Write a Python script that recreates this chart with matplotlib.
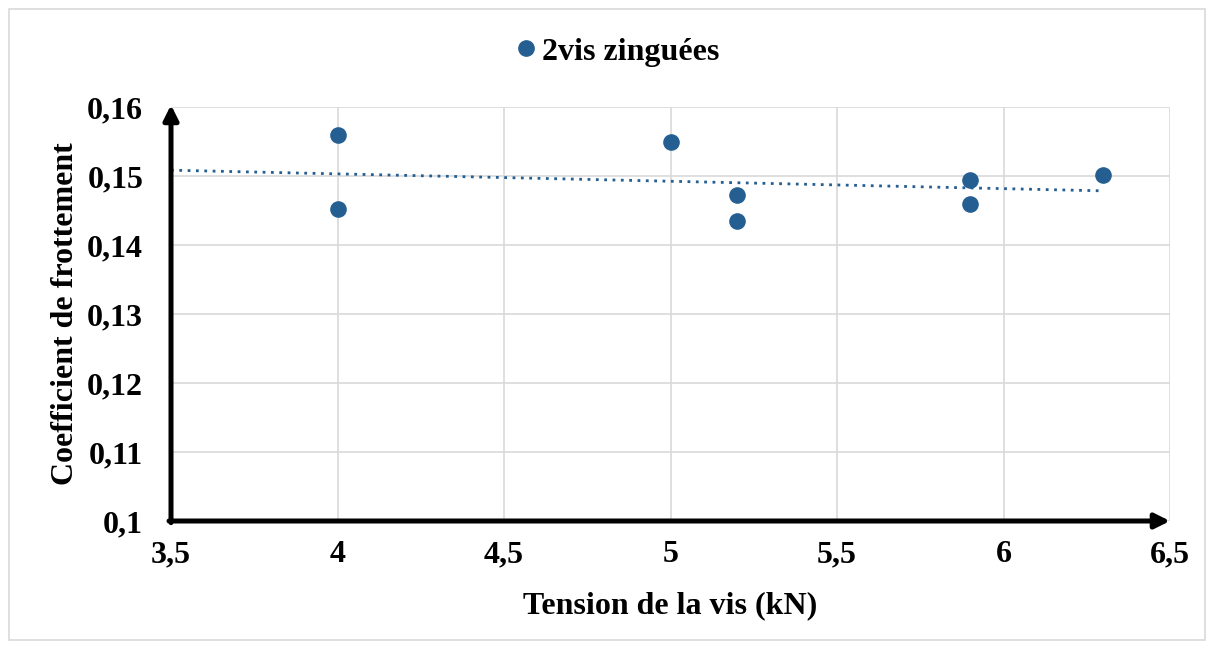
import matplotlib.pyplot as plt
from matplotlib.patches import Rectangle
from matplotlib.lines import Line2D
import numpy as np

plt.rcParams['font.family'] = ['Liberation Serif', 'DejaVu Serif']
plt.rcParams['font.weight'] = 'bold'

# data
tension = [4.0, 4.0, 5.0, 5.2, 5.2, 5.9, 5.9, 6.3]
coef = [0.1559, 0.1452, 0.1549, 0.1473, 0.1435, 0.1494, 0.1459, 0.1502]
series_name = '2vis zinguées'

x_ticks = [3.5, 4, 4.5, 5, 5.5, 6, 6.5]
x_labels = ['3,5', '4', '4,5', '5', '5,5', '6', '6,5']
y_ticks = [0.10, 0.11, 0.12, 0.13, 0.14, 0.15, 0.16]
y_labels = ['0,1', '0,11', '0,12', '0,13', '0,14', '0,15', '0,16']

blue = '#255E91'
grid_col = '#D9D9D9'
fs = 23

fig = plt.figure(figsize=(12.14, 6.49), dpi=100)
ax = fig.add_axes([171/1214, 1-521/649, (1170-171)/1214, (521-107)/649])

# outer chart border
fig.patches.append(Rectangle((9/1214, 9/649), 1196/1214, 631/649, transform=fig.transFigure,
                             fill=False, edgecolor=grid_col, linewidth=1.2))

ax.set_xlim(3.5, 6.5)
ax.set_ylim(0.1, 0.16)
ax.set_xticks(x_ticks)
ax.set_xticklabels(x_labels)
ax.set_yticks(y_ticks)
ax.set_yticklabels(y_labels)
ax.tick_params(length=0, labelsize=fs)
ax.tick_params(axis='x', pad=14)
ax.tick_params(axis='y', pad=20)
ax.grid(True, color=grid_col, linewidth=1.2)
ax.set_axisbelow(True)
for s in ax.spines.values():
    s.set_visible(False)

# axis arrows
ax.annotate('', xy=(0, 1.005), xytext=(0, -0.004), xycoords='axes fraction',
            arrowprops=dict(arrowstyle='-|>', lw=3.6, color='black', mutation_scale=22,
                            shrinkA=0, shrinkB=0), annotation_clip=False)
ax.annotate('', xy=(1.0, 0), xytext=(-0.002, 0), xycoords='axes fraction',
            arrowprops=dict(arrowstyle='-|>', lw=3.6, color='black', mutation_scale=22,
                            shrinkA=0, shrinkB=0), annotation_clip=False)

# linear trendline (backward forecast to the axis start)
a, b = np.polyfit(tension, coef, 1)
xt = np.array([3.5, max(tension)])
ax.plot(xt, a*xt + b, color=blue, linewidth=2.0, linestyle=(0, (1, 2)), zorder=2)

ax.scatter(tension, coef, s=120, color=blue, zorder=3, clip_on=False)

ax.set_xlabel('Tension de la vis (kN)', fontsize=fs, fontweight='bold', labelpad=16)
ax.set_ylabel('Coefficient de frottement', fontsize=fs, fontweight='bold', labelpad=5)

handle = Line2D([], [], marker='o', linestyle='none', color=blue, markersize=11)
fig.legend([handle], [series_name], loc='center', bbox_to_anchor=(616/1214, 1-52/649),
           frameon=False, handlelength=0.8, handletextpad=0.1,
           prop={'weight': 'bold', 'size': fs})

fig.savefig('out.png', dpi=100, facecolor='white')
